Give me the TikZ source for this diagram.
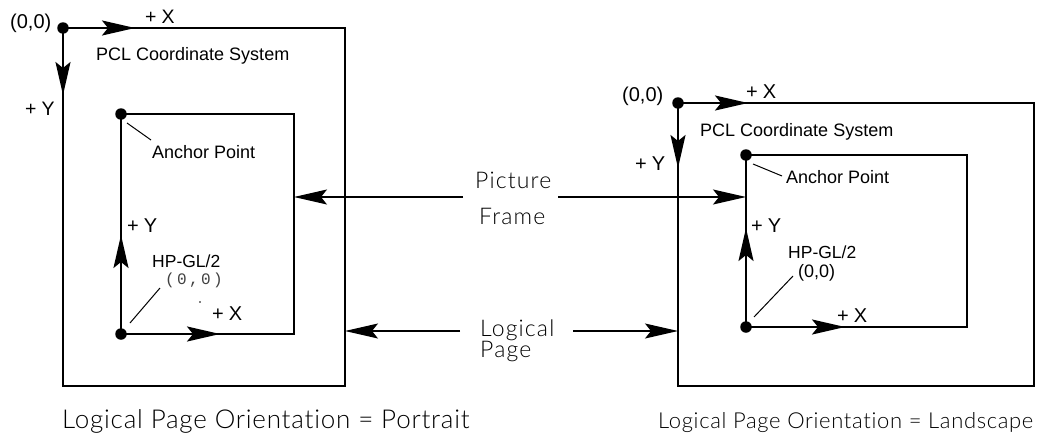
\documentclass[tikz,border=0pt]{standalone}
\usepackage{fontspec}
\usetikzlibrary{arrows.meta}
\setmainfont{Liberation Sans}
\newfontfamily\monof{Liberation Mono}[LetterSpace=15]
\IfFontExistsTF{Lato Light}{\newfontfamily\thinf{Lato Light}[Ligatures={NoCommon,NoRequired,NoContextual}]}{\newfontfamily\thinf{Liberation Sans}}
\newcommand{\plusax}[1]{+\hspace{5pt}#1}
\tikzset{
  box/.style={draw, line width=1.2pt},
  dotnode/.style={circle, fill, inner sep=0pt, minimum size=11.5pt},
  bigarr/.style={line width=2pt, -{Stealth[length=33pt,width=15pt,inset=6pt]}},
  thinarr/.style={line width=1.2pt, -{Stealth[length=33pt,width=15pt,inset=6pt]}},
  lead/.style={line width=1pt},
  lbl/.style={inner sep=0pt, anchor=base west, font=\fontsize{18}{20}\selectfont},
  ax/.style={inner sep=0pt, anchor=base west, font=\fontsize{20}{22}\selectfont},
  big/.style={inner sep=0pt, anchor=base west, font=\thinf\fontsize{23}{26}\selectfont\addfontfeature{LetterSpace=5}},
  bottom/.style={inner sep=0pt, anchor=base west, font=\thinf\fontsize{#1}{28}\selectfont\addfontfeature{LetterSpace=3}},
}
\begin{document}
\begin{tikzpicture}[x=1pt,y=-1pt]
\useasboundingbox (0,0) rectangle (1040,439);
% ---------- portrait ----------
\coordinate (p1tl) at (63,28);
\coordinate (p1br) at (345,386);
\coordinate (i1tl) at (121,114);
\coordinate (i1br) at (294,334);
\draw[box] (p1tl) rectangle (p1br);
\draw[box] (i1tl) rectangle (i1br);
\node[dotnode] (o1) at (p1tl) {};
\node[dotnode] (a1) at (i1tl) {};
\node[dotnode] (h1) at (i1tl |- i1br) {};
\coordinate (o1x) at (135,28);
\coordinate (o1y) at (63,95);
\draw[bigarr] (o1.center) -- (o1x);
\draw[bigarr] (o1.center) -- (o1y);
\coordinate (h1y) at (121,235);
\coordinate (h1x) at (220,334);
\draw[bigarr] (h1.center) -- (h1y);
\draw[bigarr] (h1.center) -- (h1x);
\node[lbl, font=\fontsize{20}{22}\selectfont] (o1lab) at (10,28) {(0,0)};
\node[ax, font=\fontsize{19.5}{22}\selectfont] (o1xlab) at (145,23) {\plusax{X}};
\node[ax, font=\fontsize{19.5}{22}\selectfont] (o1ylab) at (25,115) {\plusax{Y}};
\node[lbl] (pcl1) at (96,60) {PCL Coordinate System};
\node[lbl] (anc1) at (152,158) {Anchor Point};
\coordinate (anc1a) at (127,123);
\coordinate (anc1b) at (151,140);
\draw[lead] (anc1a) -- (anc1b);
\node[ax] (h1ylab) at (127,232) {\plusax{Y}};
\node[lbl, font=\fontsize{17.5}{20}\selectfont] (hp1) at (152,267) {HP-GL/2};
\node[inner sep=0pt, anchor=base west, text=black!75, font=\monof\fontsize{16}{18}\selectfont] (hp1o) at (165,284) {(0,0)};
\fill (200,302) circle (0.8pt);
\node[ax] (h1xlab) at (212,320) {\plusax{X}};
\coordinate (hl1a) at (130,323);
\coordinate (hl1b) at (160,288);
\draw[lead] (hl1a) -- (hl1b);
% ---------- middle ----------
\node[big] (pic) at (475,188) {Picture};
\node[big] (frm) at (479,224) {Frame};
\node[big] (log) at (480,336) {Logical};
\node[big] (pag) at (480,357) {Page};
\coordinate (pfl) at (463,197);
\coordinate (pfr) at (558,197);
\coordinate (lpl) at (460,331);
\coordinate (lpr) at (573,331);
% ---------- landscape ----------
\coordinate (p2tl) at (678,103);
\coordinate (p2br) at (1034,386);
\coordinate (i2tl) at (746,155);
\coordinate (i2br) at (967,327);
\draw[box] (p2tl) rectangle (p2br);
\draw[box] (i2tl) rectangle (i2br);
\node[dotnode] (o2) at (p2tl) {};
\node[dotnode] (a2) at (i2tl) {};
\node[dotnode] (h2) at (i2tl |- i2br) {};
\coordinate (o2x) at (748,103);
\coordinate (o2y) at (678,168);
\draw[bigarr] (o2.center) -- (o2x);
\draw[bigarr] (o2.center) -- (o2y);
\coordinate (h2y) at (746,228);
\coordinate (h2x) at (845,327);
\draw[bigarr] (h2.center) -- (h2y);
\draw[bigarr] (h2.center) -- (h2x);
\node[lbl, font=\fontsize{20}{22}\selectfont] (o2lab) at (622,101) {(0,0)};
\node[ax] (o2xlab) at (746,98) {\plusax{X}};
\node[ax] (o2ylab) at (635,170) {\plusax{Y}};
\node[lbl] (pcl2) at (700,136) {PCL Coordinate System};
\node[lbl] (anc2) at (786,183) {Anchor Point};
\coordinate (anc2a) at (753,164);
\coordinate (anc2b) at (782,176);
\draw[lead] (anc2a) -- (anc2b);
\node[ax] (h2ylab) at (751,232) {\plusax{Y}};
\node[lbl, font=\fontsize{17.5}{20}\selectfont] (hp2) at (788,258) {HP-GL/2};
\node[lbl] (hp2o) at (798,277) {(0,0)};
\node[ax] (h2xlab) at (837,322) {\plusax{X}};
\coordinate (hl2a) at (754,317);
\coordinate (hl2b) at (793,276);
\draw[lead] (hl2a) -- (hl2b);
% ---------- connectors ----------
\draw[thinarr] (pfl) -- (i1br |- pfl);
\draw[thinarr] (pfr) -- (i2tl |- pfr);
\draw[thinarr] (lpl) -- (p1br |- lpl);
\draw[thinarr] (lpr) -- (p2tl |- lpr);
% ---------- captions ----------
\node[bottom=26] (cap1) at (62,428) {Logical Page Orientation = Portrait};
\node[bottom=22] (cap2) at (658,428) {Logical Page Orientation = Landscape};
\end{tikzpicture}
\end{document}
